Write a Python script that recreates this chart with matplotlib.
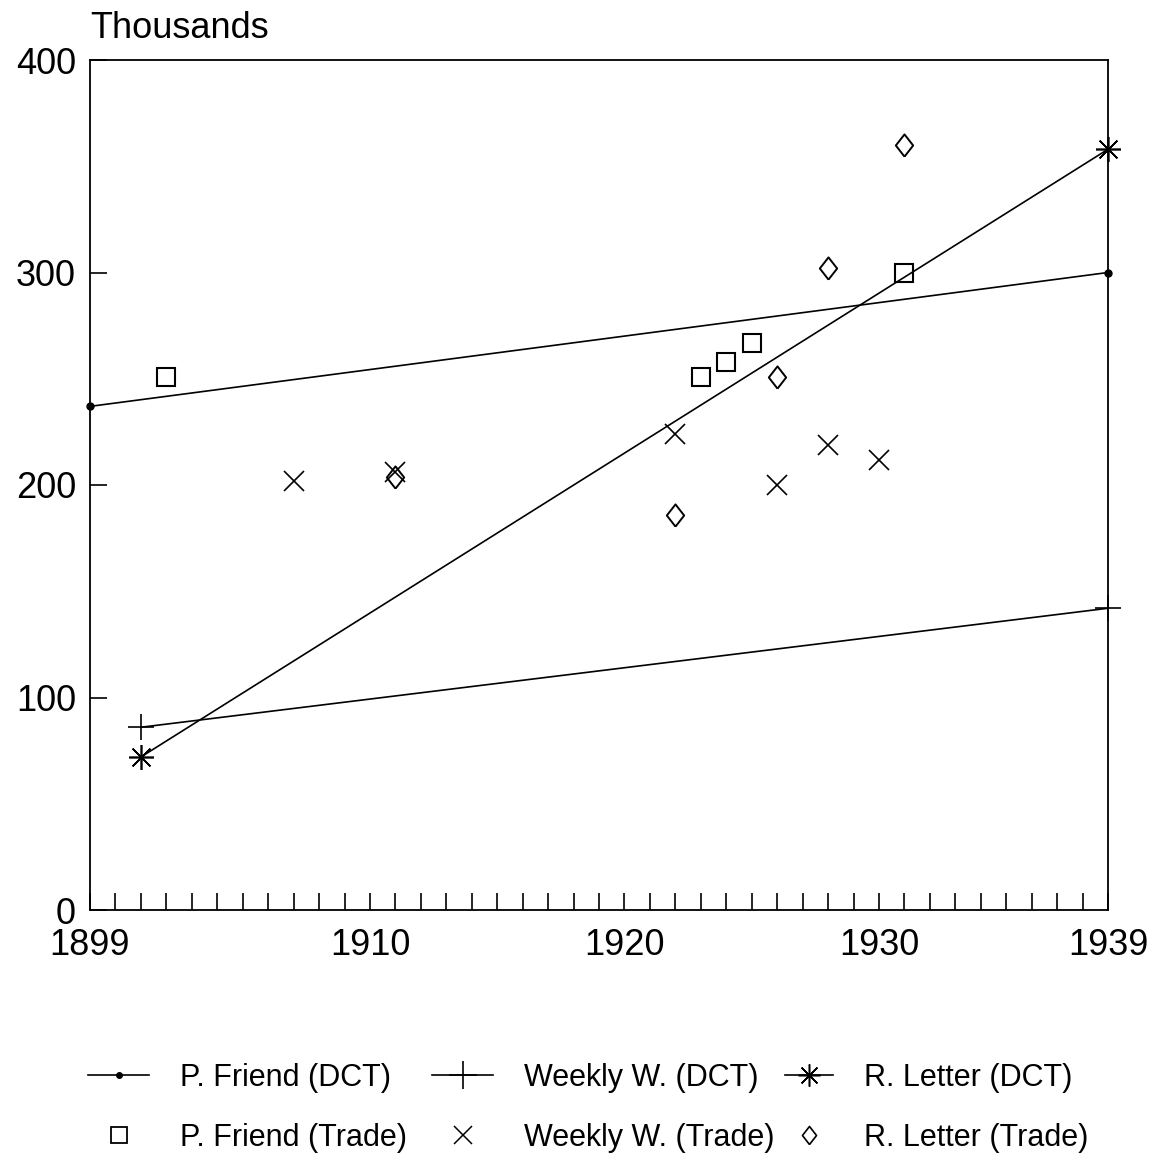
import matplotlib
matplotlib.use("Agg")
import matplotlib.pyplot as plt
from matplotlib.lines import Line2D

plt.rcParams['font.family'] = ['Liberation Sans', 'DejaVu Sans']

# DCT trend lines (endpoints)
pf_dct_years = [1899, 1939]
pf_dct_vals = [237, 300]
ww_dct_years = [1901, 1939]
ww_dct_vals = [86, 142]
rl_dct_years = [1901, 1939]
rl_dct_vals = [72, 358]

# Trade observations
pf_trade_years = [1902, 1923, 1924, 1925, 1931]
pf_trade_vals = [251, 251, 258, 267, 300]
ww_trade_years = [1907, 1911, 1922, 1926, 1928, 1930]
ww_trade_vals = [202, 206, 224, 200, 219, 212]
rl_trade_years = [1911, 1922, 1926, 1928, 1931]
rl_trade_vals = [204, 186, 251, 302, 360]

xtick_labels = [1899, 1910, 1920, 1930, 1939]
ytick_vals = [0, 100, 200, 300, 400]

fig = plt.figure(figsize=(11.68, 11.57), dpi=100)
ax = fig.add_axes([90/1168, 1-910/1157, (1108-90)/1168, (910-60)/1157])

lw = 1.2
ast = (8, 2, 0)
diamond = [(0, -1), (0.78, 0), (0, 1), (-0.78, 0), (0, -1)]
ax.plot(pf_dct_years, pf_dct_vals, color='black', lw=lw, marker='o', ms=5, clip_on=False, zorder=3)
ax.plot(ww_dct_years, ww_dct_vals, color='black', lw=lw, marker='+', ms=19, mew=1.2, clip_on=False, zorder=3)
ax.plot(rl_dct_years, rl_dct_vals, color='black', lw=lw, marker=ast, ms=18, mew=1.2, clip_on=False, zorder=3)
ax.plot(pf_trade_years, pf_trade_vals, ls='none', marker='s', ms=13, mfc='none', mec='black', mew=1.5)
ax.plot(ww_trade_years, ww_trade_vals, ls='none', marker='x', ms=14, mec='black', mew=1.2)
ax.plot(rl_trade_years, rl_trade_vals, ls='none', marker=diamond, ms=16, mfc='none', mec='black', mew=1.4)

ax.set_xlim(1899, 1939)
ax.set_ylim(0, 400)
ax.set_xticks(list(range(1899, 1940)))
ax.set_xticklabels([str(y) if y in xtick_labels else '' for y in range(1899, 1940)])
ax.set_yticks(ytick_vals)
ax.tick_params(axis='x', direction='in', length=12, width=1.2, pad=13, labelsize=26)
ax.tick_params(axis='y', direction='in', length=12, width=1.2, pad=10, labelsize=26)
for s in ax.spines.values():
    s.set_linewidth(1.3)

fig.text(90/1168, 1-28/1157, 'Thousands', fontsize=26, va='center', ha='left')

handles = [
    Line2D([], [], color='black', lw=lw, marker='o', ms=4),
    Line2D([], [], ls='none', marker='s', ms=11, mfc='none', mec='black', mew=1.3),
    Line2D([], [], color='black', lw=lw, marker='+', ms=20, mew=1.2),
    Line2D([], [], ls='none', marker='x', ms=13, mec='black', mew=1.1),
    Line2D([], [], color='black', lw=lw, marker=ast, ms=16, mew=1.1),
    Line2D([], [], ls='none', marker=diamond, ms=13, mfc='none', mec='black', mew=1.2),
]
labels = ['P. Friend (DCT)', 'P. Friend (Trade)', 'Weekly W. (DCT)',
          'Weekly W. (Trade)', 'R. Letter (DCT)', 'R. Letter (Trade)']

leg_y = 1 - 1108/1157
col_x = [88/1168, 432/1168, 785/1168]
hlens = [2.0, 2.0, 1.57]
for i in range(3):
    lg = fig.legend(handles[2*i:2*i+2], labels[2*i:2*i+2], loc='center left',
                    bbox_to_anchor=(col_x[i], leg_y), frameon=False, fontsize=22,
                    handlelength=hlens[i], labelspacing=0.98, handletextpad=1.0,
                    borderaxespad=0, borderpad=0)

fig.savefig('out.png', dpi=100)
